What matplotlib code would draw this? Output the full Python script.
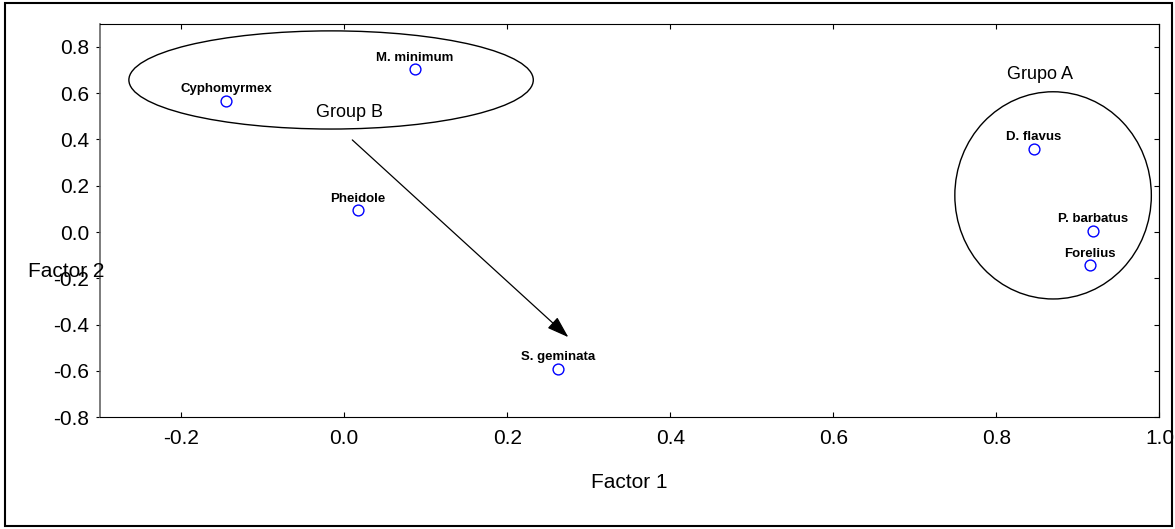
import matplotlib
matplotlib.use('Agg')
import matplotlib.pyplot as plt
import numpy as np
from matplotlib.patches import Ellipse, Rectangle
from matplotlib.ticker import FormatStrFormatter

plt.rcParams['font.family'] = ['Liberation Sans', 'DejaVu Sans']
plt.rcParams['axes.unicode_minus'] = False

species = ['Cyphomyrmex', 'M. minimum', 'Pheidole', 'S. geminata',
           'D. flavus', 'P. barbatus', 'Forelius']
factor1 = [-0.145, 0.087, 0.017, 0.262, 0.846, 0.919, 0.915]
factor2 = [0.567, 0.704, 0.096, -0.590, 0.360, 0.006, -0.144]

# group outlines: center x, center y, width, height
group_b = (-0.016, 0.657, 0.496, 0.424)
group_a = (0.8695, 0.1585, 0.241, 0.895)
arrow_from = (0.010, 0.398)
arrow_to = (0.275, -0.454)

xticks = [-0.2, 0.0, 0.2, 0.4, 0.6, 0.8, 1.0]
yticks = [-0.8, -0.6, -0.4, -0.2, 0.0, 0.2, 0.4, 0.6, 0.8]

fig = plt.figure(figsize=(11.75, 5.29), dpi=100)
ax = fig.add_axes([0.0847, 0.2112, 0.9021, 0.744])

ax.plot(factor1, factor2, 'o', markerfacecolor='none', markeredgecolor='blue',
        markersize=7.8, markeredgewidth=1.0, zorder=3)

for name, x, y in zip(species, factor1, factor2):
    ax.annotate(name, (x, y), xytext=(0, 6), textcoords='offset points',
                ha='center', va='baseline', fontsize=9.5, fontweight='bold')

for cx, cy, w, h in [group_b, group_a]:
    ax.add_patch(Ellipse((cx, cy), w, h, fill=False, edgecolor='black', lw=1.0))

ax.text(0.007, 0.517, 'Group B', ha='center', va='center', fontsize=13)
ax.text(0.853, 0.682, 'Grupo A', ha='center', va='center', fontsize=13)

ax.annotate('', xy=arrow_to, xytext=arrow_from,
            arrowprops=dict(arrowstyle='-|>,head_length=0.9,head_width=0.3',
                            color='black', lw=0.9, mutation_scale=15,
                            shrinkA=0, shrinkB=0))

ax.set_xlim(-0.3, 1.0)
ax.set_ylim(-0.8, 0.9)
ax.set_xticks(xticks)
ax.set_yticks(yticks)
ax.xaxis.set_major_formatter(FormatStrFormatter('%.1f'))
ax.yaxis.set_major_formatter(FormatStrFormatter('%.1f'))

ax.tick_params(axis='x', direction='in', top=True, length=3.6, width=0.8,
               labelsize=15, pad=8.5)
ax.tick_params(axis='y', direction='out', right=False, length=2.9, width=0.8,
               labelsize=15, pad=4.7)

sec = ax.secondary_yaxis('right')
sec.set_yticks(yticks)
sec.tick_params(direction='in', length=3.6, width=0.8, labelright=False)
sec.spines['right'].set_linewidth(0.8)

for s in ['top', 'bottom', 'right']:
    ax.spines[s].set_linewidth(0.8)
ax.spines['left'].set_linewidth(1.2)
ax.spines['left'].set_color('#666666')

fig.text(629 / 1175, 1 - 482.7 / 529, 'Factor 1', ha='center', va='center', fontsize=15)
fig.text(66.5 / 1175, 1 - 271.7 / 529, 'Factor 2', ha='center', va='center', fontsize=15)

fig.patches.append(Rectangle((5 / 1175, 3 / 529), 1167 / 1175, 523 / 529,
                             transform=fig.transFigure, fill=False,
                             edgecolor='black', lw=1.5))

fig.savefig('out.png', dpi=100)
